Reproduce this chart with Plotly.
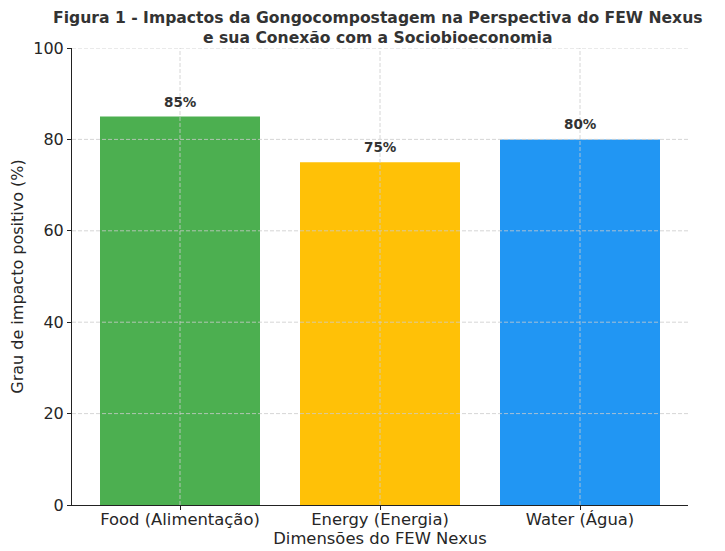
import plotly.graph_objects as go

categories = ["Food (Alimentação)", "Energy (Energia)", "Water (Água)"]
values = [85, 75, 80]
colors = ["#4CAF50", "#FFC107", "#2196F3"]
y_ticks = [0, 20, 40, 60, 80, 100]
title_text = ("Figura 1 - Impactos da Gongocompostagem na Perspectiva do FEW Nexus<br>"
              "e sua Conexão com a Sociobioeconomia")

font = "DejaVu Sans"
x_idx = list(range(len(categories)))

# page body has an 8px margin; compensate so the picture lands where intended
W, H = 717, 543
ML, MR, MT, MB = 64, 37, 40, 46
PH = H - MT - MB

fig = go.Figure()
fig.add_trace(go.Bar(
    x=x_idx, y=values, width=0.8,
    marker=dict(color=colors, line=dict(width=0)),
    hoverinfo="x+y",
))

annotations = []
for i, v in zip(x_idx, values):
    annotations.append(dict(x=i, y=v, xref="x", yref="y", text=f"<b>{v}%</b>",
                            showarrow=False, yanchor="bottom", yshift=5,
                            font=dict(family=font, size=13.5, color="#333333")))
annotations.append(dict(x=0.497, y=1 + MT / PH, xref="paper", yref="paper",
                        text=f"<b>{title_text}</b>", showarrow=False, borderpad=0,
                        xanchor="center", yanchor="top", align="center",
                        font=dict(family=font, size=15.6, color="#333333")))

grid = dict(color="#cccccc", width=0.8, dash="4px,2px")
shapes = []
for i in x_idx:
    shapes.append(dict(type="line", xref="x", yref="paper", x0=i, x1=i, y0=0, y1=1,
                       line=grid, layer="above"))
for t in y_ticks[1:]:
    shapes.append(dict(type="line", xref="paper", yref="y", x0=0, x1=1, y0=t, y1=t,
                       line=grid, layer="above"))

fig.update_layout(
    width=W, height=H,
    margin=dict(l=ML, r=MR, t=MT, b=MB, autoexpand=False),
    paper_bgcolor="white", plot_bgcolor="white",
    showlegend=False,
    shapes=shapes,
    annotations=annotations,
    xaxis=dict(range=[-0.54, 2.54], tickmode="array", tickvals=x_idx, ticktext=categories,
               showgrid=False, zeroline=False, showline=True, linecolor="#222", linewidth=1,
               ticks="outside", ticklen=4, tickcolor="#222", automargin=False,
               ticklabelstandoff=-5,
               tickfont=dict(family=font, size=16.4, color="#262626"),
               title=dict(text="Dimensões do FEW Nexus", standoff=4,
                          font=dict(family=font, size=16.4, color="#262626"))),
    yaxis=dict(range=[0, 100], tickvals=y_ticks, showgrid=False, zeroline=False,
               showline=True, linecolor="#222", linewidth=1,
               ticks="outside", ticklen=4, tickcolor="#222", automargin=False,
               tickfont=dict(family=font, size=16, color="#262626"),
               title=dict(text="Grau de impacto positivo (%)", standoff=6,
                          font=dict(family=font, size=16, color="#262626"))),
)

fig.write_html("out.html")
